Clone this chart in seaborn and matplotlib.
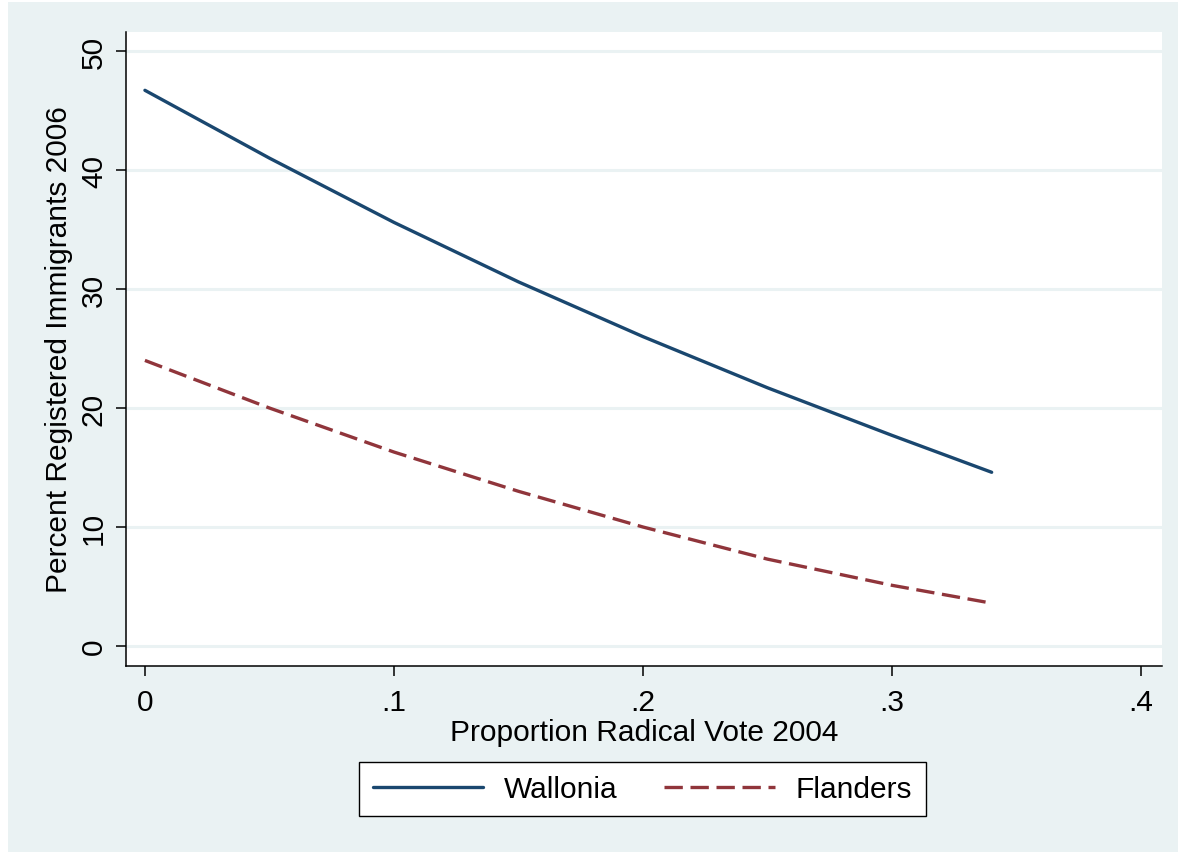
import numpy as np
import pandas as pd
import matplotlib
matplotlib.use("Agg")
import matplotlib.pyplot as plt
import seaborn as sns
from matplotlib.patches import Rectangle
from matplotlib.lines import Line2D

# ---- data ----
radical_vote = [0.0, 0.05, 0.10, 0.15, 0.20, 0.25, 0.30, 0.34]
wallonia = [46.7, 41.0, 35.6, 30.6, 26.0, 21.7, 17.7, 14.6]
flanders = [24.0, 20.0, 16.3, 13.0, 10.0, 7.3, 5.1, 3.6]
regions = ["Wallonia", "Flanders"]
x_ticks = [0, 0.1, 0.2, 0.3, 0.4]
x_tick_labels = ["0", ".1", ".2", ".3", ".4"]
y_ticks = [0, 10, 20, 30, 40, 50]
y_tick_labels = ["0", "10", "20", "30", "40", "50"]

df = pd.DataFrame({
    "x": radical_vote * 2,
    "y": wallonia + flanders,
    "Region": [regions[0]] * len(radical_vote) + [regions[1]] * len(radical_vote),
})

sns.set_theme(style="white")
plt.rcParams["font.family"] = ["Liberation Sans", "DejaVu Sans"]

BG = "#eaf2f3"
NAVY = "#1a476f"
MAROON = "#90353b"
FS = 21.5
LW = 2.4

fig = plt.figure(figsize=(11.78, 8.53), dpi=100)
fig.patch.set_facecolor("white")
W, H = 1178, 853
fig.patches.append(Rectangle((8 / W, 0), 1 - 8 / W, 1 - 3 / H, transform=fig.transFigure,
                             facecolor=BG, edgecolor="none", zorder=-10))

ax = fig.add_axes([126 / W, 1 - 667 / H, (1162 - 126) / W, (667 - 33) / H])
ax.set_facecolor("white")

sns.lineplot(data=df, x="x", y="y", hue="Region", style="Region",
             palette={"Wallonia": NAVY, "Flanders": MAROON},
             dashes={"Wallonia": "", "Flanders": (5.5, 2.3)},
             linewidth=LW, ax=ax, legend=False)

ax.set_xlim(-0.0076, 0.4084)
ax.set_ylim(-1.68, 51.6)
ax.set_xticks(x_ticks)
ax.set_xticklabels(x_tick_labels)
ax.set_yticks(y_ticks)
ax.set_yticklabels(y_tick_labels, rotation=90, va="center")
ax.yaxis.grid(True, color=BG, linewidth=2.2)
ax.xaxis.grid(False)
ax.set_axisbelow(True)

for s in ["top", "right"]:
    ax.spines[s].set_visible(False)
for s in ["left", "bottom"]:
    ax.spines[s].set_color("black")
    ax.spines[s].set_linewidth(1.1)

ax.tick_params(axis="both", which="major", direction="out", length=7, width=1.1,
               color="black", labelsize=FS, labelcolor="black", pad=6,
               left=True, bottom=True)
ax.tick_params(axis="x", pad=9)

ax.set_xlabel("Proportion Radical Vote 2004", fontsize=FS, color="black", labelpad=1)
ax.set_ylabel("Percent Registered Immigrants 2006", fontsize=FS, color="black", labelpad=5)

handles = [Line2D([], [], color=NAVY, linewidth=LW),
           Line2D([], [], color=MAROON, linewidth=LW, dashes=(5.5, 2.3))]
leg = fig.legend(handles, regions, loc="center", bbox_to_anchor=(642.5 / W, 1 - 790 / H),
                 ncol=2, frameon=True, fancybox=False, fontsize=FS, framealpha=1,
                 handlelength=3.7, handletextpad=0.7, columnspacing=1.55,
                 borderpad=0.45, borderaxespad=0)
leg.get_frame().set_edgecolor("black")
leg.get_frame().set_linewidth(1.0)
leg.get_frame().set_facecolor("white")
for t in leg.get_texts():
    t.set_color("black")

fig.savefig("out.png", dpi=100, facecolor=fig.get_facecolor())
